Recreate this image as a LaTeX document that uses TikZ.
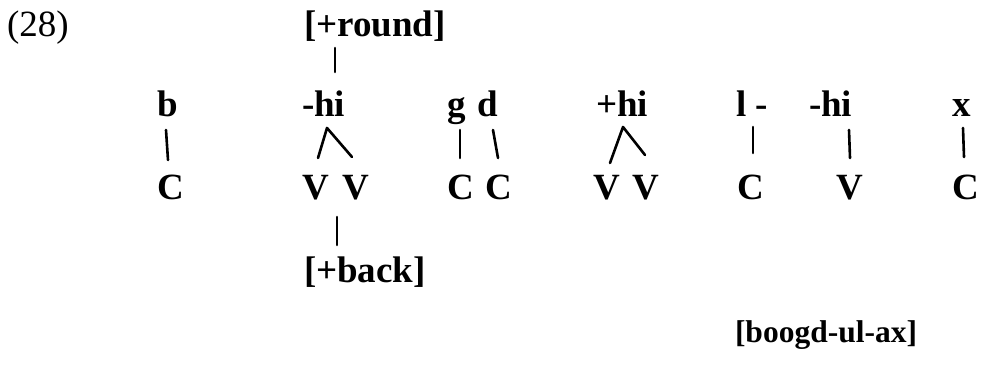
\documentclass[tikz,border=0pt]{standalone}
\usepackage{fontspec}
\setmainfont{Liberation Serif}
\usetikzlibrary{calc}
\tikzset{
  seg/.style={inner sep=0pt, outer sep=0pt, anchor=base west, font=\fontsize{37}{40}\selectfont\bfseries},
  numlabel/.style={inner sep=0pt, outer sep=0pt, anchor=base west, font=\fontsize{37}{40}\selectfont},
  gloss/.style={inner sep=0pt, outer sep=0pt, anchor=base west, font=\fontsize{31.5}{34}\selectfont\bfseries},
  tick/.style={line width=2.6pt, line cap=round, line join=round}
}
\begin{document}
\begin{tikzpicture}[x=1pt,y=1pt]
\useasboundingbox (0,0) rectangle (982,369);

% example number
\node[numlabel] (num) at (7,332) {(28)};

% feature above the first vowel pair
\node[seg] (round) at (304,332) {[+round]};

% melodic tier
\node[seg] (b)   at (157,252) {b};
\node[seg] (hiA) at (302,252) {-hi};
\node[seg] (g)   at (447,252) {g};
\node[seg] (d)   at (477,252) {d};
\node[seg] (hiB) at (596,252) {+hi};
\node[seg] (l)   at (736,252) {l -};
\node[seg] (hiC) at (809,252) {-hi};
\node[seg] (x)   at (952,252) {x};

% skeletal tier
\node[seg] (C1) at (157,169) {C};
\node[seg] (V1) at (302,169) {V};
\node[seg] (V2) at (342,169) {V};
\node[seg] (C2) at (447,169) {C};
\node[seg] (C3) at (485,169) {C};
\node[seg] (V3) at (593,169) {V};
\node[seg] (V4) at (632,169) {V};
\node[seg] (C4) at (737,169) {C};
\node[seg] (V5) at (836,169) {V};
\node[seg] (C5) at (952,169) {C};

% feature below the first vowel pair
\node[seg] (back) at (304,86) {[+back]};

% surface form
\node[gloss] (form) at (735,26) {[boogd-ul-ax]};

% association lines
\draw[tick] ($(round.base west)+(31,-11)$) -- ($(hiA.base west)+(33,45)$);
\draw[tick] ($(b.base west)+(9,-13)$) -- ($(C1.base west)+(11,40)$);
\draw[tick] ($(V1.base west)+(16,42)$) -- ($(hiA.base west)+(25,-11)$) -- ($(V2.base west)+(10,43)$);
\draw[tick] ($(V1.base west)+(35,-17)$) -- ($(back.base west)+(33,38)$);
\draw[tick] ($(g.base west)+(13,-13)$) -- ($(C2.base west)+(13,42)$);
\draw[tick] ($(d.base west)+(16,-13)$) -- ($(C3.base west)+(13,42)$);
\draw[tick] ($(V3.base west)+(17,37)$) -- ($(hiB.base west)+(27,-10)$) -- ($(V4.base west)+(13,45)$);
\draw[tick] ($(l.base west)+(17,-10)$) -- ($(C4.base west)+(16,47)$);
\draw[tick] ($(hiC.base west)+(40,-13)$) -- ($(V5.base west)+(14,42)$);
\draw[tick] ($(x.base west)+(11,-11)$) -- ($(C5.base west)+(12,43)$);
\end{tikzpicture}
\end{document}
